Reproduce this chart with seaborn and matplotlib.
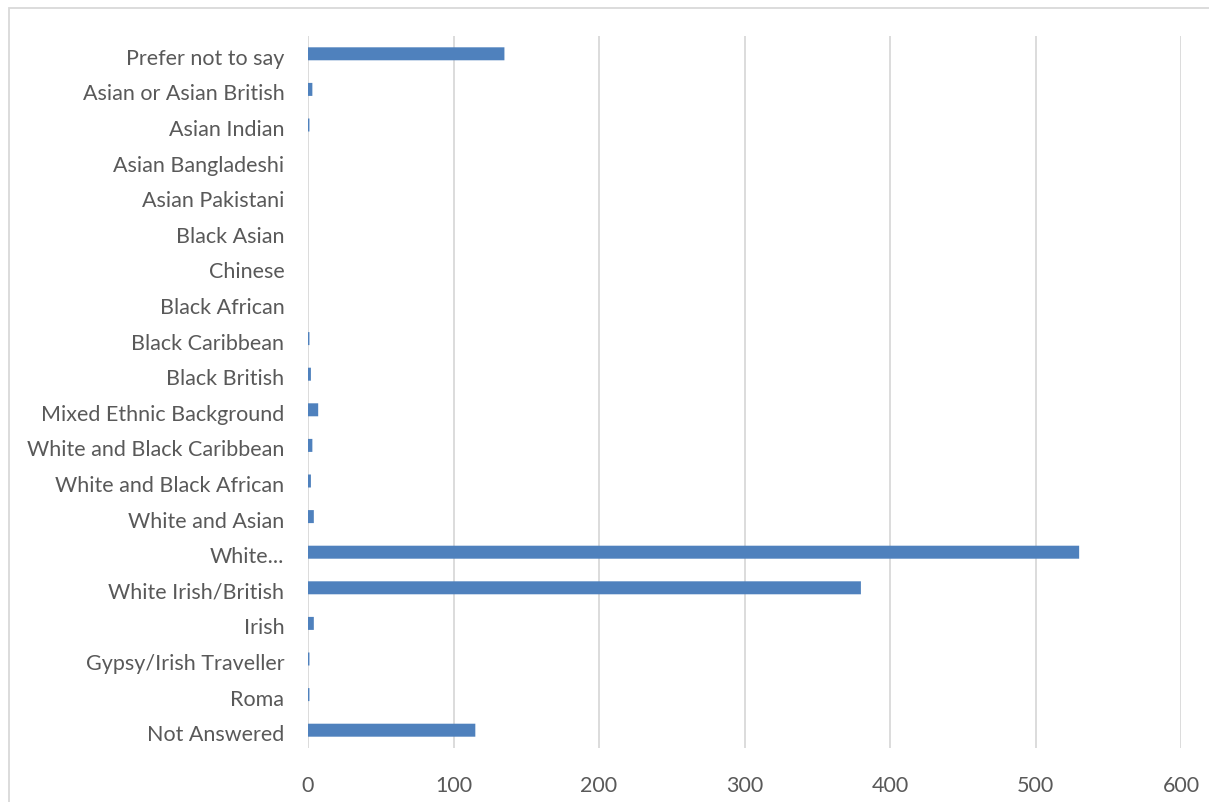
import matplotlib
matplotlib.use("Agg")
import matplotlib.pyplot as plt
import matplotlib.transforms as mtransforms
from matplotlib.patches import Rectangle
import seaborn as sns
import pandas as pd

categories = [
    "Prefer not to say", "Asian or Asian British", "Asian Indian", "Asian Bangladeshi",
    "Asian Pakistani", "Black Asian", "Chinese", "Black African", "Black Caribbean",
    "Black British", "Mixed Ethnic Background", "White and Black Caribbean",
    "White and Black African", "White and Asian", "White...", "White Irish/British",
    "Irish", "Gypsy/Irish Traveller", "Roma", "Not Answered",
]
counts = [135, 3, 1, 0, 0, 0, 0, 0, 1, 2, 7, 3, 2, 4, 530, 380, 4, 1, 1, 115]
x_ticks = [0, 100, 200, 300, 400, 500, 600]

df = pd.DataFrame({"group": categories, "count": counts})

sns.set_style("white")
plt.rcParams["font.family"] = ["Lato", "DejaVu Sans"]

fig = plt.figure(figsize=(12.09, 8.02), dpi=100)
ax = fig.add_axes([308 / 1209, 1 - 748 / 802, (1181 - 308) / 1209, (748 - 36) / 802])

sns.barplot(data=df, x="count", y="group", orient="h", color="#4F81BD",
            saturation=1, width=0.365, ax=ax, zorder=3)
for p in ax.patches:
    p.set_snap(False)
    p.set_linewidth(0)

ax.set_xlim(0, 600)
ax.set_xticks(x_ticks)
ax.grid(axis="x", color="#D9D9D9", linewidth=1.3, zorder=0)
ax.grid(axis="y", visible=False)
for s in ax.spines.values():
    s.set_visible(False)
ax.tick_params(axis="both", length=0, labelsize=15.5, labelcolor="#595959")
ax.tick_params(axis="x", pad=20)
ax.tick_params(axis="y", pad=17)
ax.set_xlabel("")
ax.set_ylabel("")

# labels sit a little below the bar centres, as in the original
shift = mtransforms.ScaledTranslation(0, -3 / 100, fig.dpi_scale_trans)
for lab in ax.get_yticklabels():
    lab.set_transform(lab.get_transform() + shift)

# chart frame
fig.patches.append(Rectangle((9 / 1209, -0.01), 1.02, 1 - 8 / 802 + 0.01,
                             transform=fig.transFigure, fill=False,
                             edgecolor="#D9D9D9", linewidth=1.3))

fig.savefig("out.png", dpi=100)
